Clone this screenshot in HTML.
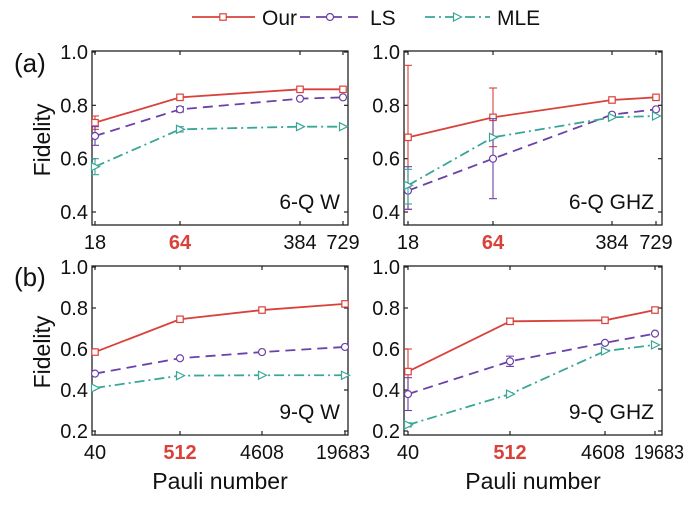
<!DOCTYPE html>
<html><head><meta charset="utf-8"><style>
html,body{margin:0;padding:0;background:#fff;}
svg{display:block;font-family:"Liberation Sans",Arial,sans-serif;}
</style></head><body>
<svg id="s" width="700" height="505" viewBox="0 0 700 505" xmlns="http://www.w3.org/2000/svg"></svg>
<script>
const R="#d9413b",P="#6b42a8",T="#3aa697";
let o="";
function ln(x1,y1,x2,y2,c,w,d){o+=`<line x1="${x1}" y1="${y1}" x2="${x2}" y2="${y2}" stroke="${c}" stroke-width="${w}" ${d?`stroke-dasharray="${d}"`:""}/>`;}
function tx(x,y,s,t,a,c,b,tl){o+=`<text x="${x}" y="${y}" font-size="${s}" text-anchor="${a||"middle"}" fill="${c||"#111"}" ${b?'font-weight="bold"':''} ${tl?`textLength="${tl}" lengthAdjust="spacingAndGlyphs"`:""}>${t}</text>`;}
function mk(type,x,y,c){
 if(type==0)o+=`<rect x="${x-3.2}" y="${y-3.2}" width="6.4" height="6.4" fill="#fff" stroke="${c}" stroke-width="1.2"/>`;
 else if(type==1)o+=`<circle cx="${x}" cy="${y}" r="3.5" fill="#fff" stroke="${c}" stroke-width="1.2"/>`;
 else o+=`<path d="M${x-3.5},${y-4} L${x+4.5},${y} L${x-3.5},${y+4} Z" fill="#fff" stroke="${c}" stroke-width="1.2"/>`;
}
const styles=[[R,"",0],[P,"10,6",1],[T,"10,4,2,4",2]];
function panel(L,Rt,top,bot,bb,v0,v1,ticks,xs,xl,boldIdx,series,errs,label,lab){
 const y=v=>bot-(v-v0)/(v1-v0)*(bot-top);
 o+=`<rect x="${L}" y="${top-1}" width="${Rt-L}" height="${bb-top+1}" fill="none" stroke="#222" stroke-width="1.3"/>`;
 ticks.forEach(t=>{const yy=y(t);ln(L,yy,L+4,yy,"#222",1.2);ln(Rt,yy,Rt-4,yy,"#222",1.2);tx(L-4,yy+7,20,t.toFixed(1),"end");});
 xs.forEach((x,i)=>{ln(x,bb,x,bb-4,"#222",1.2);ln(x,top-1,x,top+3,"#222",1.2);
  let lx=x,tl=null; if(lab&&lab[i]){lx=lab[i][0];tl=lab[i][1];}
  tx(lx,bb+24,20,xl[i],"middle",i==boldIdx?R:"#111",i==boldIdx,tl);});
 series.forEach((s,k)=>{const [c,d,m]=styles[k];
  o+=`<polyline points="${s.map((v,i)=>xs[i]+","+y(v)).join(" ")}" fill="none" stroke="${c}" stroke-width="1.8" ${d?`stroke-dasharray="${d}"`:""}/>`;
  (errs[k]||[]).forEach(e=>{if(!e)return;const [i,a,b]=e;const x=xs[i];ln(x,y(a),x,y(b),c,1.1);ln(x-4,y(a),x+4,y(a),c,1.1);ln(x-4,y(b),x+4,y(b),c,1.1);});
  s.forEach((v,i)=>mk(m,xs[i],y(v),c));
 });
 tx(Rt-8,bb-16,21,label,"end");
}
ln(192,17,255,17,R,1.8);mk(0,223,17,R);tx(262,25,21,"Our","start");
ln(300,17,360,17,P,1.8,"10,6");mk(1,330,17,P);tx(370,25,21,"LS","start");
ln(425,17,490,17,T,1.8,"10,4,2,4");mk(2,457,17,T);tx(497,25,21,"MLE","start");
tx(14,72,26,"(a)","start");tx(14,286,26,"(b)","start");
o+=`<text transform="translate(50,140) rotate(-90)" font-size="23" text-anchor="middle" fill="#111">Fidelity</text>`;
o+=`<text transform="translate(50,352) rotate(-90)" font-size="23" text-anchor="middle" fill="#111">Fidelity</text>`;
panel(92,348,52,212,225,0.4,1.0,[0.4,0.6,0.8,1.0],[95,180,300,343],["18","64","384","729"],1,
 [[0.735,0.83,0.86,0.86],[0.685,0.785,0.825,0.83],[0.57,0.71,0.72,0.72]],
 [[[0,0.71,0.76]],[[0,0.65,0.72],[1,0.775,0.795]],[[0,0.54,0.60],[1,0.70,0.72]]],"6-Q W");
panel(404,662,52,212,225,0.4,1.0,[0.4,0.6,0.8,1.0],[408,493,612,656],["18","64","384","729"],1,
 [[0.68,0.755,0.82,0.83],[0.48,0.60,0.765,0.785],[0.50,0.68,0.755,0.76]],
 [[[0,0.41,0.95],[1,0.645,0.865]],[[0,0.41,0.57],[1,0.45,0.75]],[[0,0.43,0.56]]],"6-Q GHZ");
panel(92,348,267,431,435,0.2,1.0,[0.2,0.4,0.6,0.8,1.0],[95,180,262,345],["40","512","4608","19683"],1,
 [[0.585,0.745,0.79,0.82],[0.48,0.555,0.585,0.61],[0.41,0.47,0.472,0.472]],
 [[],[],[]],"9-Q W",[null,null,[262,44],[343,54]]);
panel(404,662,267,431,435,0.2,1.0,[0.2,0.4,0.6,0.8,1.0],[408,510,605,655],["40","512","4608","19683"],1,
 [[0.49,0.735,0.74,0.79],[0.38,0.54,0.63,0.675],[0.23,0.38,0.59,0.62]],
 [[[0,0.38,0.60],[1,0.72,0.75]],[[0,0.30,0.46],[1,0.515,0.565]],[[0,0.22,0.24]]],"9-Q GHZ",[null,null,[603,44],[659,50]]);
tx(220,489,23,"Pauli number");tx(533,489,23,"Pauli number");
document.getElementById("s").innerHTML=o;
</script>
</body></html>
